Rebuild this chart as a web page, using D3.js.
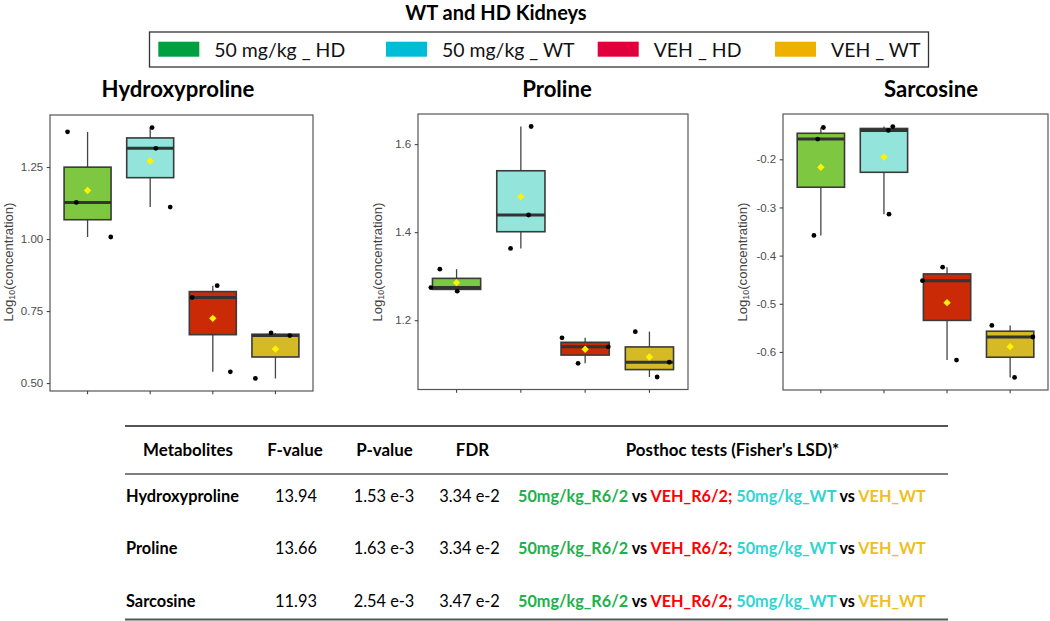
<!DOCTYPE html>
<html>
<head>
<meta charset="utf-8">
<script src="https://cdn.jsdelivr.net/npm/d3@7"></script>
<style>
  html, body { margin: 0; padding: 0; background: #fff; }
  svg { display: block; }
</style>
</head>
<body>
<svg id="chart" width="1050" height="621"></svg>
<script>
// ---------------- DATA ----------------
const chartTitle = "WT and HD Kidneys";
const groups = ["50 mg/kg _ HD", "50 mg/kg _ WT", "VEH _ HD", "VEH _ WT"];
const legendColors = ["#00a040", "#00bcd6", "#e0003c", "#f0b000"];
const boxFills = ["#7dc840", "#93e5dc", "#cb2a07", "#d5ba26"];
const metabolites = ["Hydroxyproline", "Proline", "Sarcosine"];

// individual samples (log10 concentration), per group
const hydroxyprolineValues = [[1.372, 1.127, 1.007], [1.387, 1.315, 1.111], [0.797, 0.838, 0.539], [0.674, 0.665, 0.516]];
const prolineValues = [[1.274, 1.316, 1.266], [1.640, 1.439, 1.363], [1.160, 1.1395, 1.102], [1.174, 1.1045, 1.071]];
const sarcosineValues = [[-0.134, -0.158, -0.358], [-0.132, -0.140, -0.314], [-0.424, -0.452, -0.617], [-0.545, -0.569, -0.653]];
// horizontal jitter of each sample (fraction of category spacing)
const hydroxyprolineJitter = [[-0.32, -0.18, 0.37], [0.03, 0.09, 0.32], [-0.33, 0.07, 0.28], [-0.07, 0.23, -0.32]];
const prolineJitter = [[-0.40, -0.26, 0.01], [0.16, 0.12, -0.16], [-0.36, 0.36, -0.11], [-0.22, 0.31, 0.12]];
const sarcosineJitter = [[0.04, -0.05, -0.11], [0.14, 0.07, 0.08], [-0.07, -0.39, 0.15], [-0.29, 0.36, 0.07]];

const hydroxyprolineTicks = [0.50, 0.75, 1.00, 1.25];
const hydroxyprolineTickLabels = ["0.50", "0.75", "1.00", "1.25"];
const prolineTicks = [1.2, 1.4, 1.6];
const prolineTickLabels = ["1.2", "1.4", "1.6"];
const sarcosineTicks = [-0.6, -0.5, -0.4, -0.3, -0.2];
const sarcosineTickLabels = ["-0.6", "-0.5", "-0.4", "-0.3", "-0.2"];
const yAxisTitle = ["Log", "10", "(concentration)"];

// table
const tableHeaders = ["Metabolites", "F-value", "P-value", "FDR", "Posthoc tests (Fisher's LSD)*"];
const fValues = ["13.94", "13.66", "11.93"];
const pValues = ["1.53 e-3", "1.63 e-3", "2.54 e-3"];
const fdrValues = ["3.34 e-2", "3.34 e-2", "3.47 e-2"];
const posthocParts = ["50mg/kg_R6/2", " vs ", "VEH_R6/2;", " 50mg/kg_WT", " vs ", "VEH_WT"];
const posthocColors = ["#22b04b", "#000000", "#ff0000", "#33d3d3", "#000000", "#efc01d"];

// ---------------- LAYOUT ----------------
const svg = d3.select("#chart");
const calibri = "Lato, 'Open Sans', sans-serif";
const arial = "'Liberation Sans', Arial, sans-serif";

function fitSize(sel, target) {
  const w = sel.node().getComputedTextLength();
  const fs = parseFloat(sel.attr("font-size"));
  return fs * target / w;
}

// title
const title = svg.append("text")
  .attr("x", 496).attr("y", 20)
  .attr("text-anchor", "middle")
  .attr("font-family", calibri).attr("font-weight", "bold")
  .attr("font-size", 20).attr("fill", "#000")
  .text(chartTitle);
title.attr("font-size", Math.min(20, fitSize(title, 194)));

// legend
svg.append("rect")
  .attr("x", 149.5).attr("y", 32).attr("width", 779).attr("height", 35)
  .attr("fill", "#fff").attr("stroke", "#333").attr("stroke-width", 1.3);
const legendX = [158.3, 386, 597.7, 775];
const legG = svg.append("g");
const legItems = legG.selectAll("g").data(groups).join("g")
  .attr("transform", (d, i) => `translate(${legendX[i]},0)`);
legItems.append("rect")
  .attr("x", 0).attr("y", 41.7).attr("width", 41).attr("height", 15)
  .attr("fill", (d, i) => legendColors[i]);
const legTexts = legItems.append("text")
  .attr("x", 56).attr("y", 57)
  .attr("font-family", calibri).attr("font-size", 20).attr("fill", "#111")
  .text(d => d);
const legFs = fitSize(d3.select(legTexts.nodes()[0]), 131);
legTexts.attr("font-size", legFs);

// panels
const panels = [
  { name: metabolites[0], values: hydroxyprolineValues, jitter: hydroxyprolineJitter,
    ticks: hydroxyprolineTicks, tickLabels: hydroxyprolineTickLabels,
    x0: 50, x1: 313, y0: 115, y1: 391, titleX: 178, labelX: 8 },
  { name: metabolites[1], values: prolineValues, jitter: prolineJitter,
    ticks: prolineTicks, tickLabels: prolineTickLabels,
    x0: 418, x1: 688, y0: 114, y1: 389.5, titleX: 557, labelX: 377 },
  { name: metabolites[2], values: sarcosineValues, jitter: sarcosineJitter,
    ticks: sarcosineTicks, tickLabels: sarcosineTickLabels,
    x0: 783, x1: 1048, y0: 114, y1: 390, titleX: 931, labelX: 742 }
];

let panelTitleSize = null;
let yTitleSize = null;

panels.forEach((p, pi) => {
  const g = svg.append("g");
  const all = p.values.flat();
  const [mn, mx] = d3.extent(all);
  const pad = (mx - mn) * 0.05;
  const y = d3.scaleLinear().domain([mn - pad, mx + pad]).range([p.y1, p.y0]);
  const x = d3.scaleBand().domain(groups).range([p.x0, p.x1])
    .paddingInner(0.25).paddingOuter(0.225);
  const step = x.step();
  const bw = x.bandwidth();

  // panel title
  const t = g.append("text")
    .attr("x", p.titleX).attr("y", 97)
    .attr("text-anchor", "middle")
    .attr("font-family", calibri).attr("font-weight", "bold")
    .attr("font-size", 20).attr("fill", "#000")
    .text(p.name);
  if (panelTitleSize === null) panelTitleSize = fitSize(t, 153);
  t.attr("font-size", panelTitleSize);

  // background
  g.append("rect")
    .attr("x", p.x0).attr("y", p.y0)
    .attr("width", p.x1 - p.x0).attr("height", p.y1 - p.y0)
    .attr("fill", "#fff");

  // boxes
  groups.forEach((grp, gi) => {
    const vals = p.values[gi].slice().sort(d3.ascending);
    const q1 = d3.quantile(vals, 0.25);
    const med = d3.quantile(vals, 0.5);
    const q3 = d3.quantile(vals, 0.75);
    const iqr = q3 - q1;
    const lo = d3.min(vals.filter(v => v >= q1 - 1.5 * iqr));
    const hi = d3.max(vals.filter(v => v <= q3 + 1.5 * iqr));
    const mean = d3.mean(vals);
    const bx = x(grp);
    const cx = bx + bw / 2;

    g.append("line").attr("x1", cx).attr("x2", cx)
      .attr("y1", y(q3)).attr("y2", y(hi))
      .attr("stroke", "#444").attr("stroke-width", 1.3);
    g.append("line").attr("x1", cx).attr("x2", cx)
      .attr("y1", y(q1)).attr("y2", y(lo))
      .attr("stroke", "#444").attr("stroke-width", 1.3);
    g.append("rect")
      .attr("x", bx).attr("y", y(q3))
      .attr("width", bw).attr("height", y(q1) - y(q3))
      .attr("fill", boxFills[gi]).attr("stroke", "#3a3a3a").attr("stroke-width", 1.6);
    g.append("line").attr("x1", bx).attr("x2", bx + bw)
      .attr("y1", y(med)).attr("y2", y(med))
      .attr("stroke", "#333").attr("stroke-width", 3);

    // jittered points
    g.selectAll(null).data(p.values[gi]).join("circle")
      .attr("cx", (d, k) => cx + p.jitter[gi][k] * step)
      .attr("cy", d => y(d))
      .attr("r", 2.4).attr("fill", "#000");

    // mean diamond
    const my = y(mean), s = 3.7;
    g.append("path")
      .attr("d", `M${cx},${my - s}L${cx + s},${my}L${cx},${my + s}L${cx - s},${my}Z`)
      .attr("fill", "#fff200");
  });

  // panel border
  g.append("rect")
    .attr("x", p.x0).attr("y", p.y0)
    .attr("width", p.x1 - p.x0).attr("height", p.y1 - p.y0)
    .attr("fill", "none").attr("stroke", "#555").attr("stroke-width", 1.2);

  // y axis
  const ya = g.append("g").attr("transform", `translate(${p.x0},0)`)
    .call(d3.axisLeft(y).tickValues(p.ticks)
      .tickFormat((d, i) => p.tickLabels[i]).tickSize(3.3).tickPadding(3.5));
  ya.select(".domain").remove();
  ya.selectAll(".tick line").attr("stroke", "#444").attr("stroke-width", 1.1);
  ya.selectAll(".tick text").attr("fill", "#4d4d4d")
    .attr("font-family", arial).attr("font-size", 11.5);

  // x axis (ticks only; labels were cropped in the original)
  const xa = g.append("g").attr("transform", `translate(0,${p.y1})`)
    .call(d3.axisBottom(x).tickSize(3.3).tickFormat(""));
  xa.select(".domain").remove();
  xa.selectAll(".tick line").attr("stroke", "#444").attr("stroke-width", 1.1);

  // y axis title
  const yt = g.append("text")
    .attr("transform", `translate(${p.labelX},262) rotate(-90)`)
    .attr("text-anchor", "middle").attr("dy", "0.35em")
    .attr("font-family", arial).attr("font-size", 13).attr("fill", "#444");
  yt.append("tspan").text(yAxisTitle[0]);
  yt.append("tspan").attr("font-size", "0.68em").attr("dy", 2).text(yAxisTitle[1]);
  yt.append("tspan").attr("dy", -2).text(yAxisTitle[2]);
  if (yTitleSize === null) yTitleSize = fitSize(yt, 119);
  yt.attr("font-size", yTitleSize);
});

// ---------------- TABLE ----------------
const tg = svg.append("g");
tg.append("line").attr("x1", 125).attr("x2", 948).attr("y1", 426).attr("y2", 426)
  .attr("stroke", "#555").attr("stroke-width", 2);
tg.append("line").attr("x1", 125).attr("x2", 948).attr("y1", 474).attr("y2", 474)
  .attr("stroke", "#555").attr("stroke-width", 1.5);
tg.append("line").attr("x1", 125).attr("x2", 948).attr("y1", 619.5).attr("y2", 619.5)
  .attr("stroke", "#555").attr("stroke-width", 2);

const headerX = [188, 295, 384.5, 472.5, 732.5];
const headTexts = tg.selectAll(null).data(tableHeaders).join("text")
  .attr("x", (d, i) => headerX[i]).attr("y", 456)
  .attr("text-anchor", "middle")
  .attr("font-family", calibri).attr("font-weight", "bold")
  .attr("font-size", 16).attr("fill", "#000")
  .text(d => d);
const headFs = fitSize(d3.select(headTexts.nodes()[0]), 90);
headTexts.attr("font-size", headFs);

const rowY = [502, 553.5, 607.3];
const nameTexts = tg.selectAll(null).data(metabolites).join("text")
  .attr("x", 126).attr("y", (d, i) => rowY[i])
  .attr("font-family", calibri).attr("font-weight", "bold")
  .attr("font-size", 16).attr("fill", "#000")
  .text(d => d);
const bodyFs = fitSize(d3.select(nameTexts.nodes()[0]), 113);
nameTexts.attr("font-size", bodyFs);

const valueCols = [[fValues, 296], [pValues, 384], [fdrValues, 469.5]];
valueCols.forEach(([arr, cx]) => {
  tg.selectAll(null).data(arr).join("text")
    .attr("x", cx).attr("y", (d, i) => rowY[i])
    .attr("text-anchor", "middle")
    .attr("font-family", calibri).attr("font-size", bodyFs).attr("fill", "#000")
    .text(d => d);
});

let posthocFs = null;
rowY.forEach((ry) => {
  const t = tg.append("text")
    .attr("x", 518).attr("y", ry)
    .attr("font-family", calibri).attr("font-weight", "bold")
    .attr("font-size", 16).attr("xml:space", "preserve")
    .style("white-space", "pre");
  posthocParts.forEach((s, k) => {
    t.append("tspan").attr("fill", posthocColors[k]).text(s);
  });
  if (posthocFs === null) posthocFs = fitSize(t, 408);
  t.attr("font-size", posthocFs);
});
</script>
</body>
</html>
